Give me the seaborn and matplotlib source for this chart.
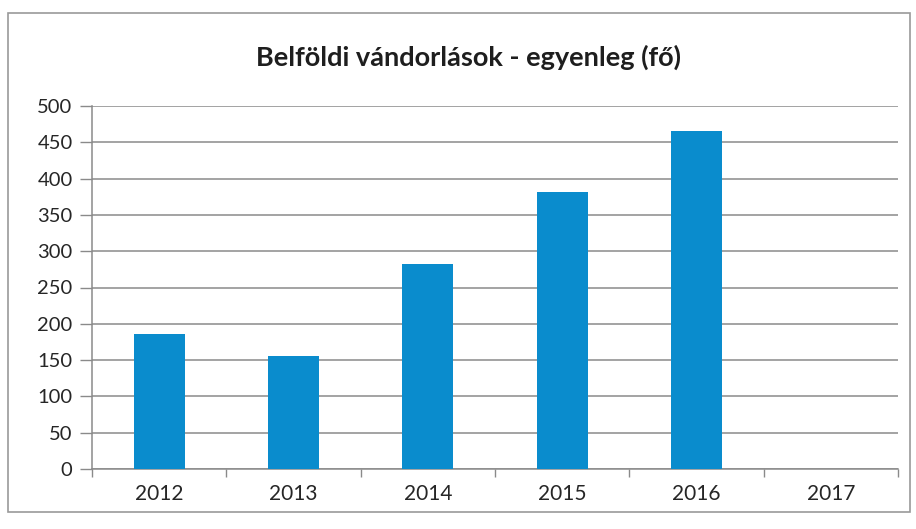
import matplotlib.pyplot as plt
import matplotlib.ticker as ticker
import numpy as np
import pandas as pd
import seaborn as sns
from matplotlib.patches import Rectangle

# Data
years = ['2012', '2013', '2014', '2015', '2016', '2017']
balance = [186, 155, 283, 381, 465, 0]

title = 'Belföldi vándorlások - egyenleg (fő)'
bar_color = '#0a8ccd'
grid_color = '#8a8a8a'
text_color = '#262626'

sns.set_theme(style='white')
plt.rcParams['font.family'] = ['Lato', 'DejaVu Sans']

df = pd.DataFrame({'year': years, 'value': balance})

fig = plt.figure(figsize=(9.16, 5.29), dpi=100)
ax = fig.add_axes([92 / 916, 1 - 469 / 529, (898 - 92) / 916, (469 - 106) / 529])

sns.barplot(data=df, x='year', y='value', color=bar_color, width=0.38,
            saturation=1, linewidth=0, ax=ax, zorder=3)

ax.set_ylim(0, 500)
ax.set_xlim(-0.5, len(years) - 0.5)
ax.yaxis.set_major_locator(ticker.MultipleLocator(50))
ax.grid(axis='y', color=grid_color, linewidth=1.1, zorder=0)
ax.set_axisbelow(True)

# category ticks sit between the bars
ax.xaxis.set_minor_locator(ticker.FixedLocator(np.arange(-0.5, len(years), 1.0)))
ax.tick_params(axis='x', which='major', length=0, pad=11, labelsize=15, labelcolor=text_color)
ax.tick_params(axis='x', which='minor', length=6, width=1, color=grid_color, direction='out')
ax.tick_params(axis='y', which='major', length=9, width=1, color=grid_color,
               direction='out', pad=5, labelsize=14.5, labelcolor=text_color)
ax.xaxis.set_ticks_position('bottom')
ax.yaxis.set_ticks_position('left')

for side in ['top', 'right']:
    ax.spines[side].set_visible(False)
for side in ['left', 'bottom']:
    ax.spines[side].set_color(grid_color)
    ax.spines[side].set_linewidth(1.1)

ax.set_xlabel('')
ax.set_ylabel('')

fig.text(468 / 916, 1 - 57 / 529, title, ha='center', va='center',
         fontsize=19.5, fontweight='bold', color='#1e1e1e')

# outer chart border
fig.patches.append(Rectangle((8 / 916, 1 - 512 / 529), (910 - 8) / 916, (512 - 13) / 529,
                             transform=fig.transFigure, fill=False,
                             edgecolor='#9a9a9a', linewidth=1.2))

fig.savefig('out.png', dpi=100)
